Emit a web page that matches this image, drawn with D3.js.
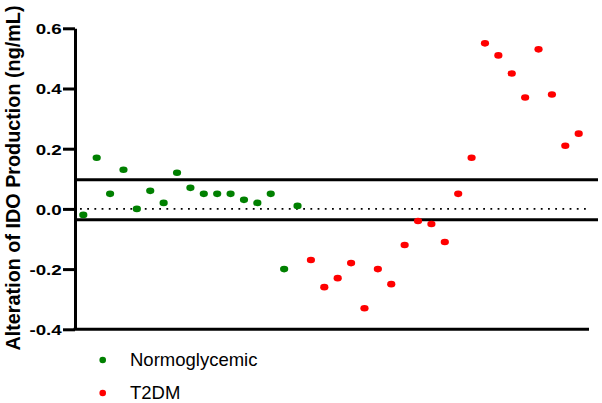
<!DOCTYPE html>
<html><head><meta charset="utf-8">
<script src="https://cdn.jsdelivr.net/npm/d3@7"></script>
<style>body{margin:0;background:#fff}svg{display:block}</style>
</head><body>
<script>
const normoglycemic = [-0.02,0.17,0.05,0.13,0.00,0.06,0.02,0.12,0.07,0.05,0.05,0.05,0.03,0.02,0.05,-0.20,0.01];
const t2dm = [-0.17,-0.26,-0.23,-0.18,-0.33,-0.20,-0.25,-0.12,-0.04,-0.05,-0.11,0.05,0.17,0.55,0.51,0.45,0.37,0.53,0.38,0.21,0.25];
const refLines = [0.097, -0.036];
const yTicks = [0.6,0.4,0.2,0.0,-0.2,-0.4];
const seriesNames = ["Normoglycemic","T2DM"];
const colors = ["#008000","#ff0000"];

const W=602,H=403;
const svg=d3.select("body").append("svg").attr("width",W).attr("height",H);
const font="Arial, 'Liberation Sans', sans-serif";

const y=d3.scaleLinear().domain([-0.4,0.6]).range([329.3,28.3]);
const n=normoglycemic.length+t2dm.length;
const x=d3.scaleLinear().domain([0,n-1]).range([83.3,578.7]);

const pts=normoglycemic.map((v,i)=>({i,v,g:0})).concat(t2dm.map((v,i)=>({i:i+normoglycemic.length,v,g:1})));

// dotted zero line
svg.append("line").attr("x1",80).attr("x2",588).attr("y1",y(0)).attr("y2",y(0))
  .attr("stroke","#000").attr("stroke-width",1.8).attr("stroke-dasharray","1.8,5.4");

// reference lines
svg.selectAll(".ref").data(refLines).enter().append("line")
  .attr("x1",75).attr("x2",598).attr("y1",d=>y(d)).attr("y2",d=>y(d))
  .attr("stroke","#000").attr("stroke-width",3);

// y axis
const sx=1.25;
const ya=svg.append("g").attr("transform","translate(75,0)")
  .call(d3.axisLeft(y).tickValues(yTicks).tickFormat(d3.format(".1f")).tickSize(12).tickSizeOuter(0));
ya.select(".domain").attr("stroke-width",3);
ya.selectAll(".tick line").attr("stroke-width",3);
ya.selectAll(".tick text").attr("font-family",font).attr("font-weight","bold").attr("font-size",15)
  .attr("x",-13.3/sx).attr("dy","0.36em").attr("transform",`scale(${sx},1)`).attr("fill","#000")
  .text(d=>d3.format(".1f")(d).replace("−","-"));

// x axis line
svg.append("line").attr("x1",73.5).attr("x2",589).attr("y1",y(-0.4)).attr("y2",y(-0.4))
  .attr("stroke","#000").attr("stroke-width",3);

// points
svg.selectAll(".pt").data(pts).enter().append("ellipse")
  .attr("cx",d=>x(d.i)).attr("cy",d=>y(d.v)).attr("rx",4.1).attr("ry",3.3)
  .attr("fill",d=>colors[d.g]);

// y title
svg.append("text").attr("transform",`translate(20,178) rotate(-90)`)
  .attr("text-anchor","middle").attr("font-family",font).attr("font-weight","bold").attr("font-size",19.8)
  .text("Alteration of IDO Production (ng/mL)");

// legend
const lg=svg.selectAll(".lg").data(seriesNames).enter().append("g")
  .attr("transform",(d,i)=>`translate(0,${366+i*33})`);
lg.append("circle").attr("cx",102.7).attr("cy",-6).attr("r",3.3).attr("fill",(d,i)=>colors[i]);
lg.append("text").attr("x",130).attr("y",0).attr("font-family",font).attr("font-size",18.5).text(d=>d);
</script>
</body></html>
